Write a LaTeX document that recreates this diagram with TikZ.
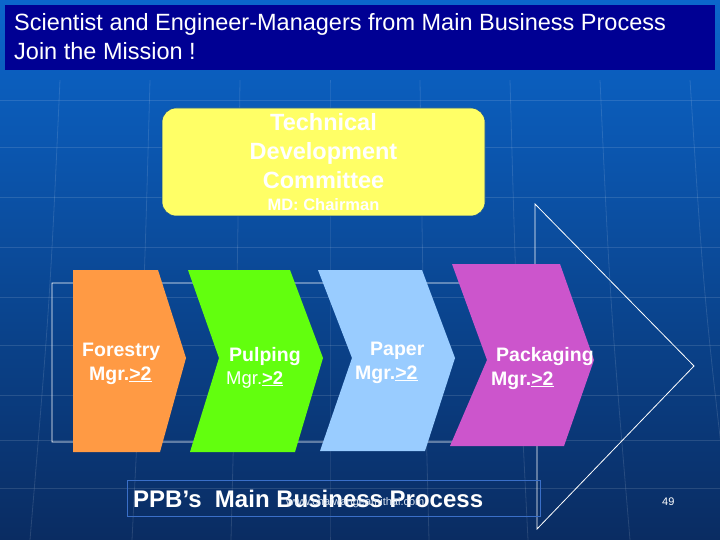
\documentclass[tikz,border=0pt]{standalone}
\usepackage{fontspec}
\setmainfont{Liberation Sans}
\definecolor{bgtop}{HTML}{0B66CC}
\definecolor{bgmid}{HTML}{0A4C9E}
\definecolor{bgbot}{HTML}{0A2C62}
\definecolor{titlebar}{HTML}{000093}
\definecolor{cyellow}{HTML}{FFFF66}
\definecolor{corange}{HTML}{FF9A44}
\definecolor{cgreen}{HTML}{62FF0E}
\definecolor{cblue}{HTML}{99CCFF}
\definecolor{cmag}{HTML}{CC55CC}
\definecolor{boxline}{HTML}{3A6FC8}
\begin{document}
\begin{tikzpicture}[x=1pt,y=-1pt,
  lbl/.style={inner sep=0pt,text=white,anchor=base west},
  big/.style={font=\fontsize{19.5}{24}\selectfont\bfseries},
  grid/.style={draw=white,opacity=0.12,line width=0.8pt},
  outline/.style={draw=white,line width=0.8pt}]
\useasboundingbox (0,0) rectangle (720,540);
\shade[top color=bgtop,middle color=bgmid,bottom color=bgbot] (0,0) rectangle (720,540);
% faint globe grid
\foreach \yy in {100,147,197,247,297,345,395,440,488} {\draw[grid] (0,\yy) -- (720,\yy);}
\foreach \xx/\bend in {60/-20,150/-12,240/-6,330/0,420/6,510/12,600/20,690/28} {
  \draw[grid] (\xx,80) .. controls (\xx+\bend*0.5,300) .. (\xx+\bend*1.5,540);}
% title bar
\fill[titlebar] (5,5) rectangle (715,70);
\node[lbl,font=\fontsize{23.5}{28}\selectfont] (t1) at (14,31) {Scientist and Engineer-Managers from Main Business Process};
\node[lbl,font=\fontsize{23.5}{28}\selectfont] (t2) at (14,60) {Join the Mission !};
% committee box
\draw[fill=cyellow,draw=bgmid,line width=0.6pt,rounded corners=14pt] (162,108) rectangle (485,216);
\node[lbl,anchor=base,font=\fontsize{23.5}{29}\selectfont\bfseries] (c1) at (323.5,131) {Technical};
\node[lbl,anchor=base,font=\fontsize{23.5}{29}\selectfont\bfseries] (c2) at (323.5,160) {Development};
\node[lbl,anchor=base,font=\fontsize{23.5}{29}\selectfont\bfseries] (c3) at (323.5,189) {Committee};
\node[lbl,anchor=base,font=\fontsize{16.5}{20}\selectfont\bfseries] (c4) at (323.5,211) {MD: Chairman};
% big process arrow outline
\draw[outline] (52,283) -- (535,283) -- (535,204) -- (694,366) -- (537,529) -- (537,442) -- (52,442) -- cycle;
% chevrons
\fill[corange] (73,270) -- (158,270) -- (186,358) -- (160,452) -- (73,452) -- cycle;
\fill[cgreen] (188,270) -- (290,270) -- (323,358) -- (295,452) -- (190,452) -- (219,358) -- cycle;
\fill[cblue] (318,270) -- (422,270) -- (455,358) -- (425,451) -- (320,451) -- (352,358) -- cycle;
\fill[cmag] (452,264) -- (560,264) -- (594,360) -- (564,446) -- (450,446) -- (487,360) -- cycle;
% chevron labels
\node[lbl,big] (f1) at (82,356) {Forestry};
\node[lbl,big] (f2) at (89,380) {Mgr.\underline{>2}};
\node[lbl,big] (p1) at (229,361) {Pulping};
\node[lbl,font=\fontsize{18.5}{22}\selectfont] (p2) at (226,384) {Mgr.\underline{\textbf{>2}}};
\node[lbl,big] (q1) at (370,355) {Paper};
\node[lbl,big] (q2) at (355,379) {Mgr.\underline{>2}};
\node[lbl,big] (k1) at (496,361) {Packaging};
\node[lbl,big] (k2) at (491,385) {Mgr.\underline{>2}};
% footer box
\draw[boxline,line width=0.8pt] (127,480) rectangle (540,516);
\node[lbl,font=\fontsize{24}{28}\selectfont\bfseries] (ppb) at (133,507) {PPB’s\ \ Main Business Process};
\node[lbl,text=white!85!bgmid,font=\fontsize{11}{13}\selectfont] (wm) at (286,505) {www.chaiwangeamithai.com};
\node[lbl,font=\fontsize{11}{13}\selectfont] (num) at (662,505) {49};
\end{tikzpicture}
\end{document}
